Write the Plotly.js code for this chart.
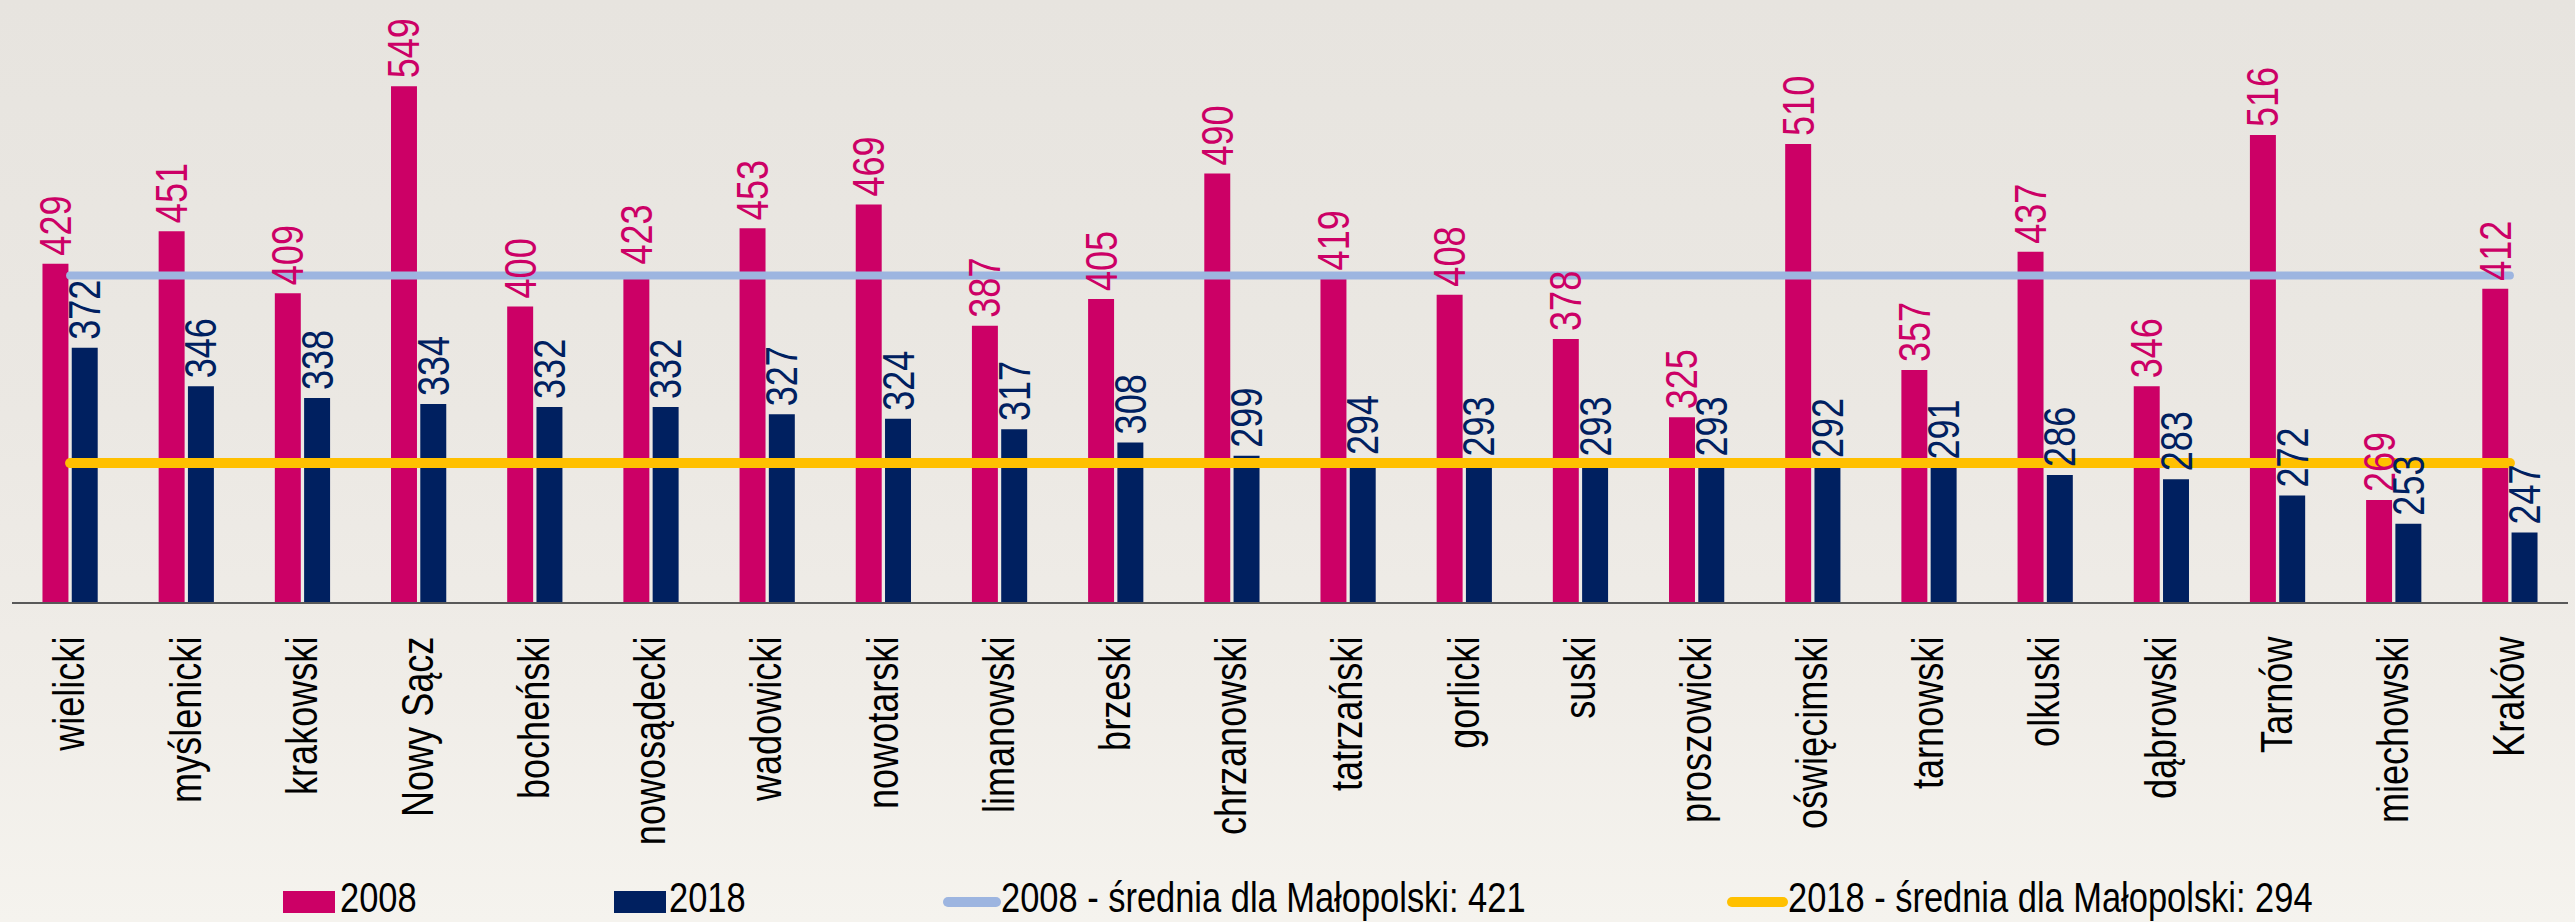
<!DOCTYPE html>
<html>
<head>
<meta charset="utf-8">
<script src="https://cdn.plot.ly/plotly-3.0.1.min.js"></script>
<style>
  html, body { margin: 0; padding: 0; }
  body {
    width: 2575px; height: 922px; overflow: hidden;
    background: linear-gradient(to bottom, #e7e4df 0%, #ebe8e3 45%, #f0ede8 75%, #f5f3ee 100%);
  }
  #chart { width: 2575px; height: 922px; }
  .scatterlayer .js-line, .shapelayer path { stroke-linecap: round; }
</style>
</head>
<body>
<div id="chart"></div>
<script>
// ---- data ----
const categories = ["wielicki", "myślenicki", "krakowski", "Nowy Sącz", "bocheński", "nowosądecki",
  "wadowicki", "nowotarski", "limanowski", "brzeski", "chrzanowski", "tatrzański", "gorlicki",
  "suski", "proszowicki", "oświęcimski", "tarnowski", "olkuski", "dąbrowski", "Tarnów",
  "miechowski", "Kraków"];
const values2008 = [429, 451, 409, 549, 400, 423, 453, 469, 387, 405, 490, 419, 408, 378, 325, 510, 357, 437, 346, 516, 269, 412];
const values2018 = [372, 346, 338, 334, 332, 332, 327, 324, 317, 308, 299, 294, 293, 293, 293, 292, 291, 286, 283, 272, 253, 247];
const avg2008 = 421;
const avg2018 = 294;
const seriesNames = ["2008", "2018",
  "2008 - średnia dla Małopolski: 421", "2018 - średnia dla Małopolski: 294"];

// ---- styles ----
const PINK = "#cc0066", NAVY = "#002060", LBLUE = "#9db5e0", GOLD = "#ffc000";
const FONT = '"Liberation Sans", Arial, sans-serif';
const NARROW = 0.82;   // emulate Arial Narrow by horizontal squeeze

const W = 2575, H = 922;
const M = { l: 12, r: 7, t: 11, b: 320 };
const PW = W - M.l - M.r, PH = H - M.t - M.b;
const px = v => (v - M.l) / PW;
const py = v => (H - M.b - v) / PH;

const traces = [
  { type: "bar", name: seriesNames[0], x: categories, y: values2008,
    marker: { color: PINK, line: { width: 0 } },
    text: values2008.map(String), textposition: "outside", textangle: -90,
    constraintext: "none", cliponaxis: false,
    textfont: { family: FONT, size: 44, color: PINK }, hoverinfo: "x+y" },
  { type: "bar", name: seriesNames[1], x: categories, y: values2018,
    marker: { color: NAVY, line: { width: 0 } },
    text: values2018.map(String), textposition: "outside", textangle: -90,
    constraintext: "none", cliponaxis: false,
    textfont: { family: FONT, size: 44, color: NAVY }, hoverinfo: "x+y" },
  { type: "scatter", mode: "lines", name: seriesNames[2],
    x: [categories[0], categories[categories.length - 1]], y: [avg2008, avg2008],
    line: { color: LBLUE, width: 8 }, hoverinfo: "skip" },
  { type: "scatter", mode: "lines", name: seriesNames[3],
    x: [categories[0], categories[categories.length - 1]], y: [avg2018, avg2018],
    line: { color: GOLD, width: 10 }, hoverinfo: "skip" }
];

// manual legend (Excel-style wide swatches)
const LY = 902;
const shapes = [
  { type: "rect", xref: "paper", yref: "paper", x0: px(283), x1: px(335), y0: py(913), y1: py(891),
    fillcolor: PINK, line: { width: 0 } },
  { type: "rect", xref: "paper", yref: "paper", x0: px(614), x1: px(666), y0: py(913), y1: py(891),
    fillcolor: NAVY, line: { width: 0 } },
  { type: "line", xref: "paper", yref: "paper", x0: px(948), x1: px(996), y0: py(LY), y1: py(LY),
    line: { color: LBLUE, width: 10 } },
  { type: "line", xref: "paper", yref: "paper", x0: px(1732), x1: px(1783), y0: py(LY), y1: py(LY),
    line: { color: GOLD, width: 10 } }
];
const legendX = [340, 669, 1001, 1788];
const annotations = seriesNames.map((t, i) => ({
  xref: "paper", yref: "paper", x: px(legendX[i]), y: py(897.5), xanchor: "left", yanchor: "middle",
  borderpad: 0, borderwidth: 0,
  text: t, showarrow: false, font: { family: FONT, size: 42, color: "#000000" }
}));

const layout = {
  width: W, height: H,
  margin: M,
  paper_bgcolor: "rgba(0,0,0,0)",
  plot_bgcolor: "rgba(0,0,0,0)",
  barmode: "group",
  bargap: 0.496,
  bargroupgap: 0.113,
  showlegend: false,
  font: { family: FONT, color: "#000000" },
  xaxis: {
    type: "category",
    tickmode: "array", tickvals: categories, ticktext: categories,
    tickangle: -90, ticks: "", ticklabelstandoff: 15,
    tickfont: { family: FONT, size: 44, color: "#000000" },
    showline: true, linecolor: "#595959", linewidth: 2,
    showgrid: false, zeroline: false, fixedrange: true
  },
  yaxis: {
    range: [200, 600], visible: false, showgrid: false, zeroline: false, fixedrange: true
  },
  shapes: shapes,
  annotations: annotations
};

// squeeze a text element horizontally, keeping one edge ('start'|'end') fixed
function squeeze(t, keep, extra) {
  const w = t.getComputedTextLength();
  if (!w) return;
  const L = w * NARROW;
  const anc = t.getAttribute("text-anchor") || getComputedStyle(t).textAnchor || "start";
  const a = anc === "middle" ? 0.5 : (anc === "end" ? 1 : 0);
  const x = parseFloat(t.getAttribute("x") || "0");
  const nx = keep === "end" ? x + (1 - a) * (w - L) : x - a * (w - L);
  t.setAttribute("x", (nx + (extra || 0)).toFixed(2));
  t.setAttribute("textLength", L.toFixed(2));
  t.setAttribute("lengthAdjust", "spacingAndGlyphs");
}

const gd = document.getElementById("chart");
Plotly.newPlot(gd, traces, layout, { displayModeBar: false, staticPlot: true }).then(() => {
  // data labels above the average lines (as in Excel)
  const barLayer = gd.querySelector(".barlayer");
  const texts = Array.from(gd.querySelectorAll(".barlayer text.bartext"));
  if (barLayer && barLayer.parentNode) {
    const topG = document.createElementNS("http://www.w3.org/2000/svg", "g");
    topG.setAttribute("class", "labels-top");
    barLayer.parentNode.appendChild(topG);
    texts.forEach(t => topG.appendChild(t));
  }
  texts.forEach(t => squeeze(t, "start", 5));
  gd.querySelectorAll(".xtick text").forEach(t => squeeze(t, "end", 0));
  gd.querySelectorAll(".annotation-text").forEach(t => squeeze(t, "start", 0));
});
</script>
</body>
</html>
